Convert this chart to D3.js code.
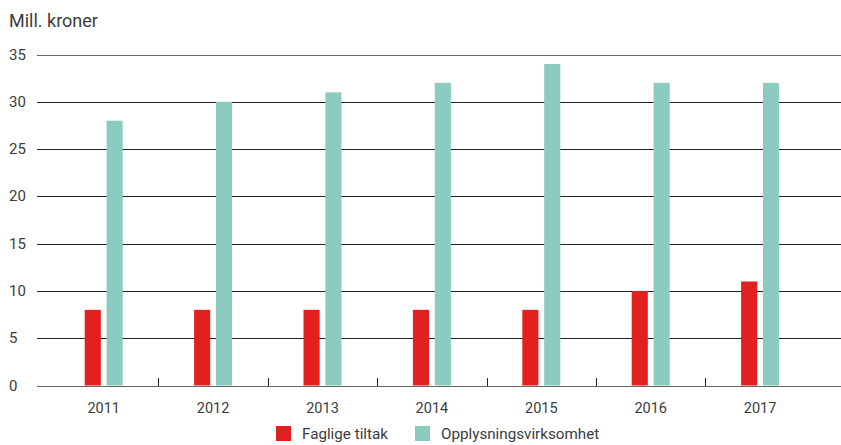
<!DOCTYPE html>
<html>
<head>
<meta charset="utf-8">
<script src="https://cdn.jsdelivr.net/npm/d3@7"></script>
<style>
  body { margin: 0; background: #fff; }
  svg text { font-family: Roboto, "Noto Sans", sans-serif; fill: #3c3c3c; }
</style>
</head>
<body>
<div id="chart"></div>
<script>
'use strict';

let years = ['2011', '2012', '2013', '2014', '2015', '2016', '2017'];
let seriesNames = ['Faglige tiltak', 'Opplysningsvirksomhet'];
let faglige = [8, 8, 8, 8, 8, 10, 11];
let opplysning = [28, 30, 31, 32, 34, 32, 32];
let yTicks = [0, 5, 10, 15, 20, 25, 30, 35];
let colors = ['#e2201f', '#8ccbbf'];

let width = 841;
let height = 445;
let left = 37;
let right = 841;

let svg = d3.select('#chart').append('svg')
    .attr('width', width)
    .attr('height', height);

let xScale = d3.scaleBand()
    .domain(years)
    .range([49, 49 + 7 * 109.4]);

let xInner = d3.scaleBand()
    .domain(seriesNames)
    .range([xScale.bandwidth() / 2 - 19, xScale.bandwidth() / 2 + 19])
    .paddingInner(10 / 38);

let yScale = d3.scaleLinear()
    .domain([0, 35])
    .range([385.5, 54.5]);

// grid lines
svg.append('g')
    .selectAll('line')
    .data(yTicks)
    .enter()
    .append('line')
    .attr('x1', left)
    .attr('x2', right)
    .attr('y1', d => Math.round(yScale(d)) + 0.5)
    .attr('y2', d => Math.round(yScale(d)) + 0.5)
    .attr('stroke', d => (d === 0 || d === 35) ? '#666' : '#222')
    .attr('stroke-width', 1);

// y labels
svg.append('g')
    .selectAll('text')
    .data(yTicks)
    .enter()
    .append('text')
    .text(d => d)
    .attr('x', 9)
    .attr('y', d => yScale(d) + 5)
    .style('font-size', '15px');

svg.append('text')
    .text('Mill. kroner')
    .attr('x', 9)
    .attr('y', 27)
    .style('font-size', '18px');

// bars
let groups = svg.append('g')
    .selectAll('g')
    .data(years)
    .enter()
    .append('g')
    .attr('transform', d => `translate(${xScale(d)}, 0)`);

groups.selectAll('rect')
    .data((d, i) => [
        { name: seriesNames[0], value: faglige[i] },
        { name: seriesNames[1], value: opplysning[i] }
    ])
    .enter()
    .append('rect')
    .attr('x', d => xInner(d.name))
    .attr('width', xInner.bandwidth())
    .attr('y', d => yScale(d.value))
    .attr('height', d => yScale(0) - yScale(d.value))
    .attr('fill', (d, i) => colors[i]);

// separator ticks between years
svg.append('g')
    .selectAll('line')
    .data(years.slice(1))
    .enter()
    .append('line')
    .attr('x1', d => Math.round(xScale(d)) + 0.5)
    .attr('x2', d => Math.round(xScale(d)) + 0.5)
    .attr('y1', 378)
    .attr('y2', 386)
    .attr('stroke', '#222');

// x labels
svg.append('g')
    .selectAll('text')
    .data(years)
    .enter()
    .append('text')
    .text(d => d)
    .attr('x', d => xScale(d) + xScale.bandwidth() / 2)
    .attr('y', 413)
    .attr('text-anchor', 'middle')
    .style('font-size', '14.5px');

// legend
let legendX = [276, 415];
let legend = svg.append('g')
    .selectAll('g')
    .data(seriesNames)
    .enter()
    .append('g')
    .attr('transform', (d, i) => `translate(${legendX[i]}, 426)`);

legend.append('rect')
    .attr('width', 15)
    .attr('height', 15)
    .attr('fill', (d, i) => colors[i]);

legend.append('text')
    .text(d => d)
    .attr('x', 26)
    .attr('y', 13)
    .style('font-size', '15.2px');
</script>
</body>
</html>
